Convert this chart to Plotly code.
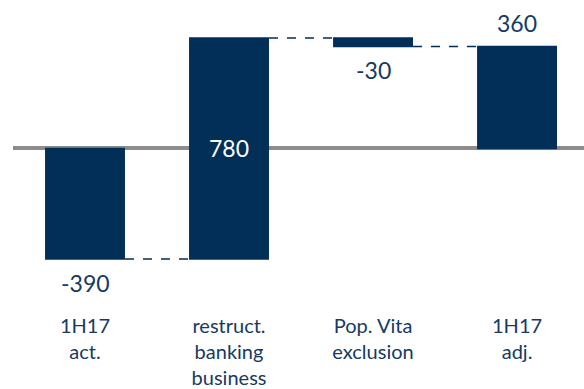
import plotly.graph_objects as go

categories = ["1H17<br>act.", "restruct.<br>banking<br>business", "Pop. Vita<br>exclusion", "1H17<br>adj."]
values = [-390, 780, -30, 360]
measures = ["relative", "relative", "relative", "total"]
labels = ["-390", "780", "-30", "360"]

NAVY = "#022f57"
TEXT = "#163a63"

fig = go.Figure(go.Waterfall(
    x=categories,
    y=values,
    measure=measures,
    text=["", labels[1], "", ""],
    textposition="inside",
    insidetextanchor="middle",
    insidetextfont=dict(size=23, color="white", family="Lato"),
    cliponaxis=False,
    increasing=dict(marker=dict(color=NAVY)),
    decreasing=dict(marker=dict(color=NAVY)),
    totals=dict(marker=dict(color=NAVY)),
    connector=dict(mode="between", line=dict(color=NAVY, width=1.5, dash="dash")),
    width=0.555,
    hoverinfo="skip",
))

# Value labels outside the bars, placed at the end of each bar
running = 0
for i, (cat, val, meas, lab) in enumerate(zip(categories, values, measures, labels)):
    if meas == "total":
        start, end = 0, val
    else:
        start, end = running, running + val
        running = end
    if i == 1:
        continue
    below = end < start
    fig.add_annotation(
        x=cat, y=end, text=lab, showarrow=False,
        yanchor="top" if below else "bottom",
        yshift=-8 if below else 7,
        font=dict(size=23, color=TEXT, family="Lato"),
    )

fig.update_layout(
    width=584, height=389,
    margin=dict(l=13, r=0, t=0, b=79),
    paper_bgcolor="white",
    plot_bgcolor="white",
    showlegend=False,
    font=dict(family="Lato", color=TEXT),
)
fig.update_xaxes(
    range=[-0.5, 3.465],
    showgrid=False, showline=False, ticks="",
    tickfont=dict(size=20, color=TEXT, family="Lato"),
    ticklabelstandoff=2,
)
fig.update_yaxes(
    range=[-570, 524],
    showgrid=False, showticklabels=False, showline=False,
    zeroline=True, zerolinecolor="#8c8c8c", zerolinewidth=4,
)

fig.write_html("out.html")
